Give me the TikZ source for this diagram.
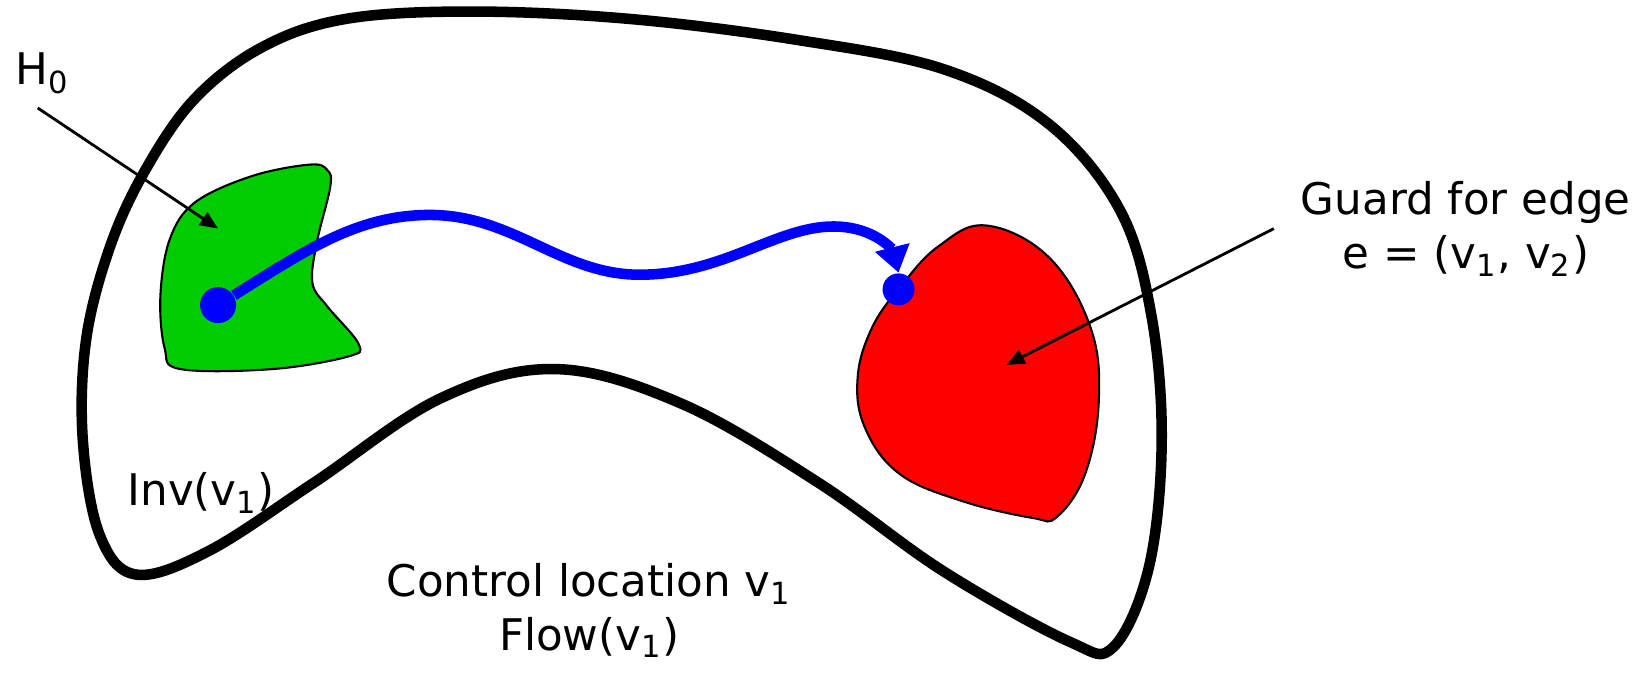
\documentclass[tikz,border=0pt]{standalone}
\usepackage{fontspec}
\setmainfont{DejaVu Sans}
\usepackage{tikz}
\usetikzlibrary{arrows.meta}

\begin{document}
\begin{tikzpicture}[x=0.010485cm, y=-0.010485cm,
    font=\fontsize{12.4}{15.2}\selectfont,
    lbl/.style={inner sep=0pt, align=center},
    ptr/.style={line width=0.8pt, -{Triangle[length=0.18cm, width=0.15cm]}},
    blob/.style={draw, line width=0.6pt},
    dot/.style={circle, fill=blue, inner sep=0pt, minimum size=0.32cm}]
  \useasboundingbox (0,0) rectangle (1568,643);
  % control location v1: the outer region
  \draw[line width=3pt] plot[smooth cycle, tension=0.6] coordinates {
    (137,165) (185,95) (250,45) (330,18) (450,11) (600,18) (760,38) (900,66)
    (1000,118) (1068,200) (1098,300) (1108,420) (1096,540) (1062,617) (1020,612)
    (900,545) (780,460) (650,385) (530,352) (420,380) (300,460) (200,525)
    (130,548) (95,510) (79,420) (82,325) (104,238)};
  % initial set H0
  \draw[blob, fill=green!80!black] plot[smooth cycle, tension=0.6] coordinates {
    (312,162) (315,178) (302,232) (298,270) (312,292) (342,328) (332,340)
    (260,352) (172,352) (157,332) (153,282) (162,228) (186,193) (240,168) (295,157)};
  % guard region
  \draw[blob, fill=red] plot[smooth cycle, tension=0.65] coordinates {
    (940,215) (1000,245) (1040,312) (1048,382) (1035,452) (1008,493) (985,494)
    (918,478) (858,452) (825,408) (818,360) (832,312) (860,272) (895,235)};
  % trajectory
  \node[dot, minimum size=0.36cm] (start) at (208,291) {};
  \node[dot] (stop) at (857,276) {};
  \draw[blue, line width=3pt, -{Triangle[length=0.26cm, width=0.34cm]}]
    (start) .. controls (290,240) and (340,205) .. (410,205)
    .. controls (490,205) and (535,262) .. (610,262)
    .. controls (690,262) and (740,216) .. (795,216)
    .. controls (835,216) and (852,240) .. (stop.north);
  % labels
  \node[lbl, anchor=base west] (h0) at (14,81) {H\textsubscript{0}};
  \coordinate (h0tail) at (36,103);
  \coordinate (h0tip) at (208,218);
  \draw[ptr] (h0tail) -- (h0tip);
  \node[lbl, anchor=base] (guard) at (1398,256) {Guard for edge\\ e = (v\textsubscript{1}, v\textsubscript{2})};
  \coordinate (guardtail) at (1215,218);
  \coordinate (guardtip) at (960,348);
  \draw[ptr] (guardtail) -- (guardtip);
  \node[lbl, anchor=base] (inv) at (192,482) {Inv(v\textsubscript{1})};
  \node[lbl, anchor=base] (ctrl) at (562,620) {Control location v\textsubscript{1}\\ Flow(v\textsubscript{1})};
\end{tikzpicture}
\end{document}
